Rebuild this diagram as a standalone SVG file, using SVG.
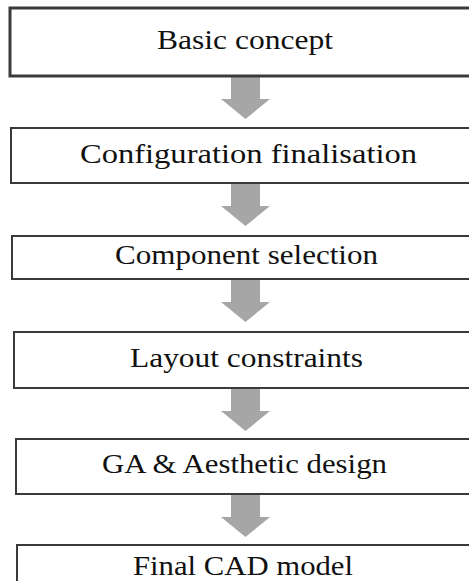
<svg xmlns="http://www.w3.org/2000/svg" width="469" height="581" viewBox="0 0 469 581">
<style>
.box{fill:#fff;stroke:#3a3a3a;stroke-width:2}
.lbl{font-family:"Liberation Serif","Times New Roman",serif;font-size:27px;fill:#111}
.arr{fill:#a6a6a6}
</style>
<defs>
<path id="arrow" d="M231,0 H260 V22 H270 L245.5,42 L221,22 H231 Z"/>
</defs>
<rect width="469" height="581" fill="#fff"/>
<g id="connectors">
<use href="#arrow" class="arr" transform="translate(0,77)"/>
<use href="#arrow" class="arr" transform="translate(0,184)"/>
<use href="#arrow" class="arr" transform="translate(0,280)"/>
<use href="#arrow" class="arr" transform="translate(0,389)"/>
<use href="#arrow" class="arr" transform="translate(0,495)"/>
</g>
<g id="n1"><rect class="box" x="10" y="8" width="470" height="68" style="stroke-width:3"/><text class="lbl" x="157" y="49" textLength="176" lengthAdjust="spacingAndGlyphs">Basic concept</text></g>
<g id="n2"><rect class="box" x="11" y="128" width="470" height="55"/><text class="lbl" x="80" y="163" textLength="337" lengthAdjust="spacingAndGlyphs">Configuration finalisation</text></g>
<g id="n3"><rect class="box" x="12" y="236" width="470" height="43"/><text class="lbl" x="115" y="264" textLength="263" lengthAdjust="spacingAndGlyphs">Component selection</text></g>
<g id="n4"><rect class="box" x="14" y="332" width="470" height="56"/><text class="lbl" x="130" y="367" textLength="233" lengthAdjust="spacingAndGlyphs">Layout constraints</text></g>
<g id="n5"><rect class="box" x="16" y="439" width="470" height="55"/><text class="lbl" x="102" y="473" textLength="285" lengthAdjust="spacingAndGlyphs">GA &amp; Aesthetic design</text></g>
<g id="n6"><rect class="box" x="17" y="545" width="470" height="60"/><text class="lbl" x="133" y="575" textLength="220" lengthAdjust="spacingAndGlyphs">Final CAD model</text></g>
</svg>
